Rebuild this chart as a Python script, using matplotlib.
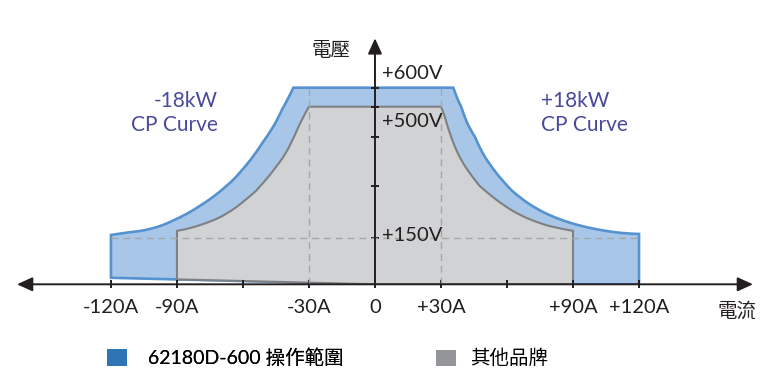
import numpy as np
import matplotlib
matplotlib.use('Agg')
import matplotlib.pyplot as plt
from matplotlib.patches import Patch, PathPatch
from matplotlib.path import Path

plt.rcParams['font.family'] = ['Lato', 'Noto Sans CJK TC']

# 電流刻度 (A)
current_ticks = [-120, -90, -60, -30, 0, 30, 60, 90, 120]
current_labels = ['-120A', '-90A', '', '-30A', '0', '+30A', '', '+90A', '+120A']
# 電壓刻度 (V) 與標籤
volt_ticks = [150, 300, 400, 500, 600]
volt_labels = {600: '+600V', 500: '+500V', 150: '+150V'}

# 電壓軸在原圖不是線性的: 電壓 -> 高度 (示意)
volt_levels = [0, 150, 300, 400, 500, 600, 900]
volt_height = [0, 46.5, 98.6, 147.6, 177.6, 196.6, 253.6]

# 62180D-600 操作範圍 (±18kW CP 曲線)
blue_right_I = [35.6, 37.7, 40.5, 43.2, 47.7, 52.3, 58.3, 65.9, 73.5, 81.0, 88.6, 96.2, 105.3, 114.4, 120]
blue_right_V = [600, 533, 470, 424, 375, 342, 308, 265, 233, 210, 193, 180, 169, 162, 161]
blue_left_I = [-37.1, -40.1, -44.0, -48.5, -53.8, -59.1, -67.4, -79.5, -91.7, -102.3, -112.9, -120]
blue_left_V = [600, 526, 461, 406, 369, 338, 297, 240, 198, 173, 165, 158]
blue_bottom_I = [-120, 0, 120]
blue_bottom_V = [21, 0, 0]

# 其他品牌
gray_right_I = [30, 31.4, 32.7, 34.5, 37.1, 40.5, 44.1, 50.8, 58.3, 65.9, 73.5, 81.0, 90]
gray_right_V = [500, 475, 441, 401, 370, 342, 319, 281, 244, 215, 195, 180, 170]
gray_left_I = [-30, -33.3, -36.4, -40.1, -45.5, -49.5, -58.6, -67.4, -75.0, -84.1, -90]
gray_left_V = [500, 458, 405, 368, 335, 312, 259, 218, 196, 177, 170]
gray_bottom_I = [-90, 0, 90]
gray_bottom_V = [16, 0, 0]


def volt_fwd(v):
    return np.interp(v, volt_levels, volt_height)


def volt_inv(h):
    return np.interp(h, volt_height, volt_levels)


def smooth_part(xs, ys):
    # 用讀出的點當控制點畫平滑曲線 (二次貝茲)
    pts = list(zip(xs, ys))
    verts, codes = [pts[0]], [Path.LINETO]
    for i in range(1, len(pts) - 1):
        mid = ((pts[i][0] + pts[i + 1][0]) / 2, (pts[i][1] + pts[i + 1][1]) / 2)
        verts += [pts[i], mid]
        codes += [Path.CURVE3, Path.CURVE3]
    verts.append(pts[-1])
    codes.append(Path.LINETO)
    return verts, codes


def region_path(bot_I, bot_V, right_I, right_V, left_I, left_V):
    verts = list(zip(bot_I, bot_V))
    codes = [Path.MOVETO] + [Path.LINETO] * (len(verts) - 1)
    v, c = smooth_part(right_I[::-1], right_V[::-1])
    verts += v
    codes += c
    v, c = smooth_part(left_I, left_V)
    verts += v
    codes += c
    verts.append(verts[0])
    codes.append(Path.CLOSEPOLY)
    return Path(verts, codes)


fig = plt.figure(figsize=(7.68, 3.82), dpi=100)
ax = fig.add_axes([17 / 768, (382 - 284.3) / 382, 736 / 768, 246 / 382])
ax.set_yscale('function', functions=(volt_fwd, volt_inv))
ax.set_xlim(-162.7, 171.8)
ax.set_ylim(0, 860)

blue_path = region_path(blue_bottom_I, blue_bottom_V, blue_right_I, blue_right_V, blue_left_I, blue_left_V)
gray_path = region_path(gray_bottom_I, gray_bottom_V, gray_right_I, gray_right_V, gray_left_I, gray_left_V)
ax.add_patch(PathPatch(blue_path, facecolor='#a8c7e8', edgecolor='#5592cf', lw=1.9,
                       joinstyle='miter', zorder=1))
ax.add_patch(PathPatch(gray_path, facecolor='#d1d2d4', edgecolor='#7f8083', lw=1.5,
                       joinstyle='miter', zorder=1.2))

# 虛線
dash = (0, (5, 3.5))
ax.plot([-120, 120], [150, 150], color='#a6a6a6', lw=1.0, linestyle=dash, zorder=2)
for x in (-30, 30):
    ax.plot([x, x], [0, 600], color='#a6a6a6', lw=1.0, linestyle=dash, zorder=2)

# 座標軸 (帶箭頭)
for s in ax.spines.values():
    s.set_visible(False)
ax.spines['left'].set_position(('data', 0))
axis_col = '#231f20'
ax.annotate('', xy=(1, 0), xytext=(0, 0), xycoords='axes fraction',
            arrowprops=dict(arrowstyle='<|-|>,head_length=0.55,head_width=0.25', color=axis_col,
                            lw=1.4, mutation_scale=17, shrinkA=0, shrinkB=0))
ax.annotate('', xy=(0, 1), xytext=(0, 0), xycoords=('data', 'axes fraction'),
            arrowprops=dict(arrowstyle='-|>,head_length=0.55,head_width=0.25', color=axis_col,
                            lw=1.4, mutation_scale=17, shrinkA=0, shrinkB=0))

ax.set_xticks(current_ticks)
ax.set_xticklabels(current_labels)
ax.set_yticks(volt_ticks)
ax.set_yticklabels([])
ax.yaxis.set_minor_locator(plt.NullLocator())
ax.tick_params(axis='both', direction='inout', length=6, width=1.4, color=axis_col)
ax.tick_params(axis='x', pad=7.5, labelsize=14.5, labelcolor=axis_col)

for v, lab in volt_labels.items():
    dy = {600: 10.4, 500: -10.6, 150: 2}[v]
    ax.annotate(lab, xy=(0, v), xytext=(5, dy), textcoords='offset points',
                ha='left', va='center', fontsize=14.5, color=axis_col)

ax.text(-10.9, 798, '電壓', ha='right', va='center', fontsize=14, color=axis_col)
ax.annotate('電流', xy=(164.4, 0), xytext=(0, -18.5), textcoords='offset points',
            ha='center', va='center', fontsize=14, color=axis_col)

cp_col = '#4a4a9c'
ax.text(-71.4, 479, '-18kW\nCP Curve', ha='right', va='center', fontsize=15,
        color=cp_col, linespacing=1.2)
ax.text(75.5, 479, '+18kW\nCP Curve', ha='left', va='center', fontsize=15,
        color=cp_col, linespacing=1.2)

# 圖例 (兩組, 間距不同)
leg_kw = dict(loc='center left', frameon=False, borderpad=0, borderaxespad=0,
              handlelength=1.03, handleheight=0.9, fontsize=14)
leg1 = fig.legend(handles=[Patch(facecolor='#2e75b6', edgecolor='none', label='62180D-600 操作範圍')],
                  bbox_to_anchor=(106.7 / 768, 24 / 382), handletextpad=1.1, **leg_kw)
fig.legend(handles=[Patch(facecolor='#939598', edgecolor='none', label='其他品牌')],
           bbox_to_anchor=(436 / 768, 24 / 382), handletextpad=0.72, **leg_kw)
fig.add_artist(leg1)

fig.savefig('out.png', dpi=100)
